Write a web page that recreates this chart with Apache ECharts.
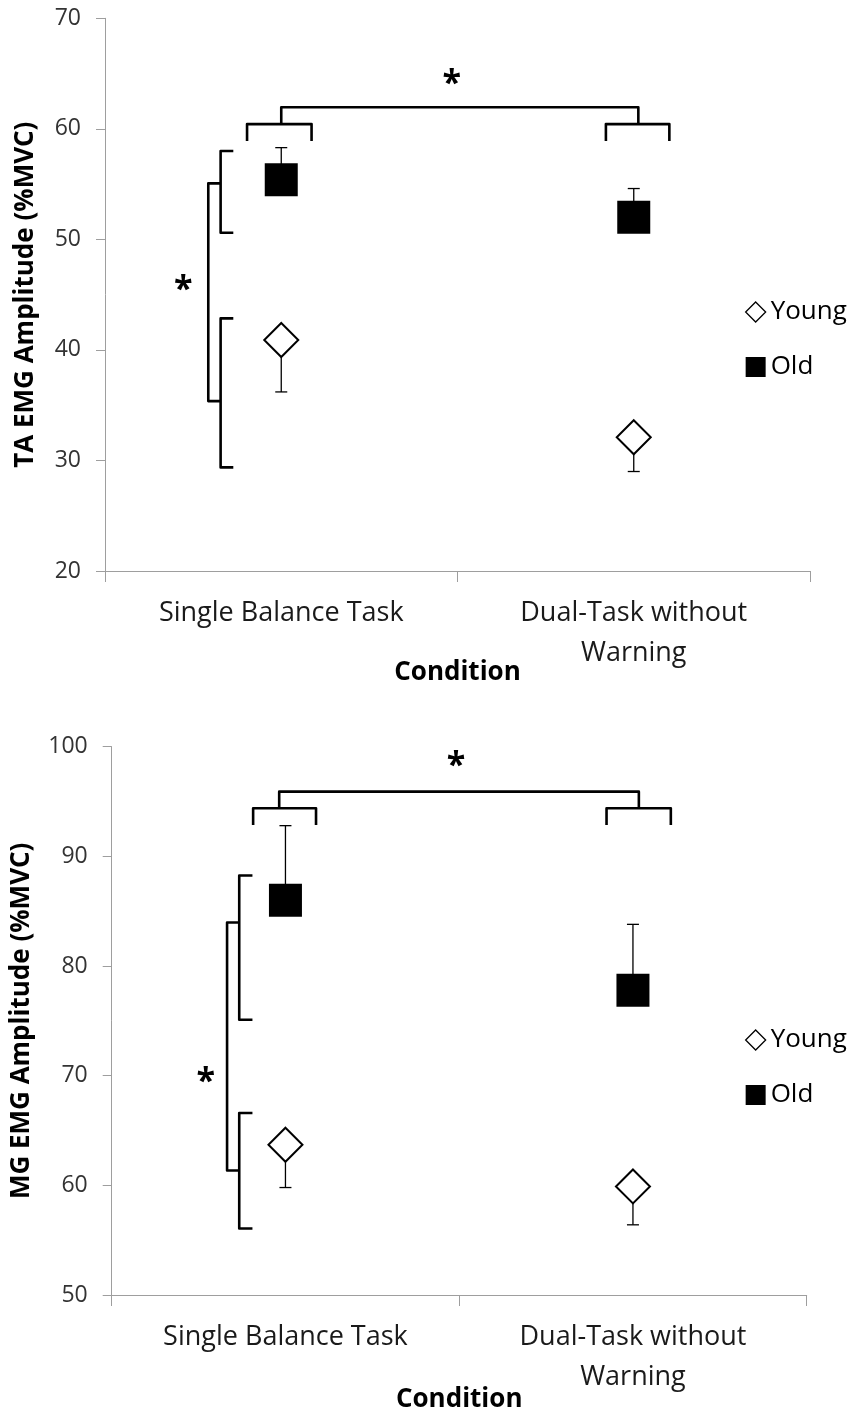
<!DOCTYPE html>
<html>
<head>
<meta charset="utf-8">
<script src="https://cdn.jsdelivr.net/npm/echarts@6/dist/echarts.min.js"></script>
<style>
html,body{margin:0;padding:0;background:#fff;}
#chart{width:851px;height:1414px;}
</style>
</head>
<body>
<div id="chart"></div>
<script>
// ---- data ----
const categories = ['Single Balance Task', 'Dual-Task without\nWarning'];
const seriesNames = ['Young', 'Old'];

// TA panel
const taYoung = [40.9, 32.1];
const taYoungErr = [4.7, 3.1];
const taOld = [55.4, 52.0];
const taOldErr = [2.9, 2.6];

// MG panel
const mgYoung = [63.7, 59.9];
const mgYoungErr = [3.9, 3.5];
const mgOld = [86.0, 77.8];
const mgOldErr = [6.8, 6.0];

// significance brackets (data space: x in category units, y in %MVC)
const taBrackets = [
  [[0, 60.43], [0, 61.95], [1.013, 61.95], [1.013, 60.43]],
  [[-0.097, 58.9], [-0.097, 60.43], [0.086, 60.43], [0.086, 58.9]],
  [[0.921, 58.9], [0.921, 60.43], [1.101, 60.43], [1.101, 58.9]],
  [[-0.136, 58.0], [-0.172, 58.0], [-0.172, 50.6], [-0.136, 50.6]],
  [[-0.136, 42.85], [-0.172, 42.85], [-0.172, 29.37], [-0.136, 29.37]],
  [[-0.172, 55.07], [-0.207, 55.07], [-0.207, 35.37], [-0.172, 35.37]]
];
const taStars = [[0.4835, 64.7], [-0.278, 46.0]];

const mgBrackets = [
  [[-0.018, 94.39], [-0.018, 95.9], [1.017, 95.9], [1.017, 94.39]],
  [[-0.093, 92.87], [-0.093, 94.39], [0.088, 94.39], [0.088, 92.87]],
  [[0.924, 92.87], [0.924, 94.39], [1.109, 94.39], [1.109, 92.87]],
  [[-0.095, 88.25], [-0.133, 88.25], [-0.133, 75.1], [-0.095, 75.1]],
  [[-0.095, 66.6], [-0.133, 66.6], [-0.133, 56.07], [-0.095, 56.07]],
  [[-0.133, 83.97], [-0.168, 83.97], [-0.168, 61.36], [-0.133, 61.36]]
];
const mgStars = [[0.491, 98.85], [-0.2295, 70.0]];

// ---- helpers ----
const FONT = 'Open Sans';
const AXIS_GRAY = '#9e9e9e';

function errData(vals, errs, dir) {
  return vals.map((v, i) => [i, v, v + dir * errs[i]]);
}
function errRender(params, api) {
  const x = api.value(0), m = api.value(1), e = api.value(2);
  const p0 = api.coord([x, m]);
  const p1 = api.coord([x, e]);
  return {
    type: 'group',
    children: [
      {type: 'line', shape: {x1: p0[0], y1: p0[1], x2: p1[0], y2: p1[1]}, style: {stroke: '#000', lineWidth: 1.3}},
      {type: 'line', shape: {x1: p1[0] - 6, y1: p1[1], x2: p1[0] + 6, y2: p1[1]}, style: {stroke: '#000', lineWidth: 1.3}}
    ]
  };
}
function bracketRender(list) {
  return function (params, api) {
    const pts = list[params.dataIndex].map(p => api.coord(p));
    return {type: 'polyline', shape: {points: pts}, style: {stroke: '#000', lineWidth: 2.6, fill: null, lineJoin: 'round', lineCap: 'butt'}};
  };
}
function starRender(params, api) {
  const p = api.coord([api.value(0), api.value(1)]);
  // glyph sits high in its em box: nudge so the ink is centred on the point
  return {type: 'text', x: p[0], y: p[1] + 7, style: {text: '*', fontSize: 34, fontWeight: 'bold', fontFamily: FONT, fill: '#000', align: 'center', verticalAlign: 'middle'}};
}

function catAxis(gi, name, gap) {
  return {
    type: 'category', gridIndex: gi, data: categories,
    boundaryGap: true,
    axisLine: {onZero: false, lineStyle: {color: AXIS_GRAY, width: 1}},
    axisTick: {show: true, length: 11, alignWithLabel: false, lineStyle: {color: AXIS_GRAY}},
    axisLabel: {fontSize: 27, color: '#1a1a1a', margin: 22, lineHeight: 40, fontFamily: FONT, interval: 0},
    name: name, nameLocation: 'middle', nameGap: gap, nameMoveOverlap: false,
    nameTextStyle: {fontSize: 26, fontWeight: 'bold', color: '#000', fontFamily: FONT},
    splitLine: {show: false}
  };
}
function valXAxis(gi) {
  return {type: 'value', gridIndex: gi, min: -0.5, max: 1.5, show: false, axisLine: {onZero: false}};
}
function valYAxis(gi, min, max, name, gap) {
  return {
    type: 'value', gridIndex: gi, min: min, max: max, interval: 10,
    axisLine: {show: true, onZero: false, lineStyle: {color: AXIS_GRAY, width: 1}},
    axisTick: {show: true, length: 9, lineStyle: {color: AXIS_GRAY}},
    axisLabel: {fontSize: 23, color: '#333', margin: 24, fontFamily: FONT},
    splitLine: {show: false},
    name: name, nameLocation: 'middle', nameGap: gap, nameRotate: 90, nameMoveOverlap: false,
    nameTextStyle: {fontSize: 26, fontWeight: 'bold', color: '#000', fontFamily: FONT}
  };
}
function panelSeries(gi, young, youngErr, old, oldErr, brackets, stars) {
  const cx = gi * 2, vx = gi * 2 + 1;
  return [
    {type: 'custom', name: 'errY' + gi, xAxisIndex: vx, yAxisIndex: gi, renderItem: errRender, data: errData(young, youngErr, -1), z: 1, silent: true},
    {type: 'custom', name: 'errO' + gi, xAxisIndex: vx, yAxisIndex: gi, renderItem: errRender, data: errData(old, oldErr, 1), z: 1, silent: true},
    {type: 'scatter', name: 'Young', xAxisIndex: cx, yAxisIndex: gi, data: young, symbol: 'diamond', symbolSize: 34,
      itemStyle: {color: '#fff', borderColor: '#000', borderWidth: 2, opacity: 1}, z: 3},
    {type: 'scatter', name: 'Old', xAxisIndex: cx, yAxisIndex: gi, data: old, symbol: 'rect', symbolSize: 33,
      itemStyle: {color: '#000', opacity: 1}, z: 3},
    {type: 'custom', name: 'br' + gi, xAxisIndex: vx, yAxisIndex: gi, renderItem: bracketRender(brackets),
      data: brackets.map(b => b[0]), z: 2, silent: true},
    {type: 'custom', name: 'st' + gi, xAxisIndex: vx, yAxisIndex: gi, renderItem: starRender, data: stars, z: 2, silent: true}
  ];
}

const chart = echarts.init(document.getElementById('chart'));
chart.setOption({
  backgroundColor: '#fff',
  animation: false,
  textStyle: {fontFamily: FONT},
  grid: [
    {left: 105, top: 18.3, width: 705, height: 552.7},
    {left: 111.7, top: 746.7, width: 695, height: 549}
  ],
  xAxis: [catAxis(0, 'Condition', 89), valXAxis(0), catAxis(1, 'Condition', 92), valXAxis(1)],
  yAxis: [valYAxis(0, 20, 70, 'TA EMG Amplitude (%MVC)', 66), valYAxis(1, 50, 100, 'MG EMG Amplitude (%MVC)', 77)],
  legend: [
    {data: seriesNames, orient: 'vertical', left: 740, top: 294, itemWidth: 20, itemHeight: 20, itemGap: 29,
      textStyle: {fontSize: 26, color: '#000', fontFamily: FONT, lineHeight: 20}, itemStyle: {borderWidth: 1.3}, selectedMode: false},
    {data: seriesNames, orient: 'vertical', left: 740, top: 1022, itemWidth: 20, itemHeight: 20, itemGap: 29,
      textStyle: {fontSize: 26, color: '#000', fontFamily: FONT, lineHeight: 20}, itemStyle: {borderWidth: 1.3}, selectedMode: false}
  ],
  series: [].concat(
    panelSeries(0, taYoung, taYoungErr, taOld, taOldErr, taBrackets, taStars),
    panelSeries(1, mgYoung, mgYoungErr, mgOld, mgOldErr, mgBrackets, mgStars)
  )
});
</script>
</body>
</html>
